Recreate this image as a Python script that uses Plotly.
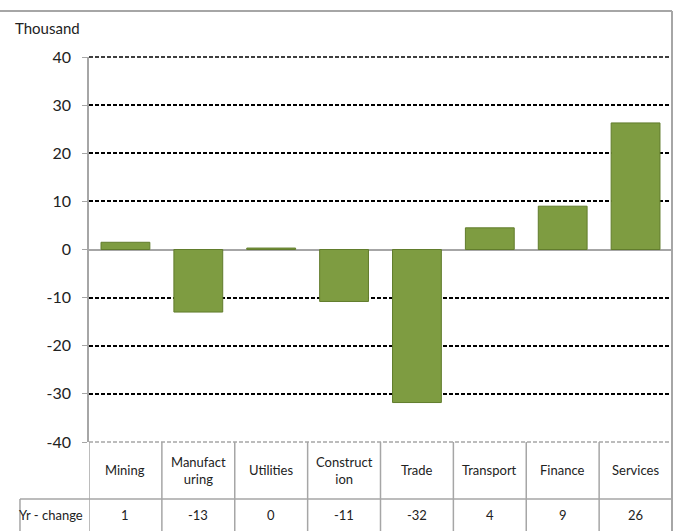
import plotly.graph_objects as go

categories = ["Mining", "Manufacturing", "Utilities", "Construction", "Trade", "Transport", "Finance", "Services"]
category_labels = ["Mining", "Manufact<br>uring", "Utilities", "Construct<br>ion", "Trade", "Transport", "Finance", "Services"]
bar_values = [1.5, -13.0, 0.3, -10.8, -31.8, 4.5, 9.0, 26.3]
table_values = ["1", "-13", "0", "-11", "-32", "4", "9", "26"]
row_header = "Yr - change"
y_ticks = [-40, -30, -20, -10, 0, 10, 20, 30, 40]
y_tick_text = ["-40", "-30", "-20", "-10", "0", "10", "20", "30", "40"]
unit_label = "Thousand"

FONT = "Lato, Roboto, sans-serif"
GRAY = "#A6A6A6"

fig = go.Figure()
xs = list(range(len(categories)))
fig.add_trace(go.Bar(
    x=xs, y=bar_values, width=0.67,
    marker=dict(color="#7E9C41", line=dict(color="#617C2C", width=1)),
    hoverinfo="skip",
))

n = len(categories)
row1_bottom = -0.148
table_bottom = -0.26
hdr_left = -0.1184

shapes = []
for k in range(n + 1):
    shapes.append(dict(type="line", xref="x", yref="paper", x0=k - 0.5, x1=k - 0.5,
                       y0=table_bottom, y1=0, line=dict(color=GRAY, width=1.5)))
shapes.append(dict(type="line", xref="paper", yref="paper", x0=hdr_left, x1=1,
                   y0=row1_bottom, y1=row1_bottom, line=dict(color=GRAY, width=1.5)))
shapes.append(dict(type="line", xref="paper", yref="paper", x0=hdr_left, x1=hdr_left,
                   y0=table_bottom, y1=row1_bottom, line=dict(color=GRAY, width=1.5)))
# bottom (-40) gray dashed and top (40) black dashed edge lines
shapes.append(dict(type="line", xref="paper", yref="paper", x0=0, x1=1, y0=0, y1=0,
                   line=dict(color=GRAY, width=1.5, dash="4px,2px")))
shapes.append(dict(type="line", xref="paper", yref="paper", x0=0, x1=1, y0=1, y1=1,
                   line=dict(color="black", width=1.5, dash="4px,2px")))
shapes.append(dict(type="line", xref="paper", yref="paper", x0=-0.2, x1=1.0, y0=1.1195, y1=1.1195,
                   line=dict(color=GRAY, width=2)))
shapes.append(dict(type="line", xref="paper", yref="paper", x0=1.0, x1=1.0, y0=table_bottom, y1=1.1195,
                   line=dict(color=GRAY, width=2)))

annotations = []
for i, lab in enumerate(category_labels):
    annotations.append(dict(x=xs[i], y=-0.074, xref="x", yref="paper", text=lab, showarrow=False,
                            xanchor="center", yanchor="middle", font=dict(family=FONT, size=13, color="#222")))
for i, v in enumerate(table_values):
    annotations.append(dict(x=xs[i], y=-0.19, xref="x", yref="paper", text=v, showarrow=False,
                            xanchor="center", yanchor="middle", font=dict(family=FONT, size=13, color="#222")))
annotations.append(dict(x=-0.0655, y=-0.19, xref="paper", yref="paper", text=row_header, showarrow=False,
                        xanchor="center", yanchor="middle", font=dict(family=FONT, size=13, color="#222")))
annotations.append(dict(x=-0.13, y=1.075, xref="paper", yref="paper", text=unit_label, showarrow=False,
                        xanchor="left", yanchor="middle", font=dict(family=FONT, size=15, color="#222")))

fig.update_layout(
    width=680, height=531,
    margin=dict(l=89, r=8, t=57, b=89),
    paper_bgcolor="white", plot_bgcolor="white",
    showlegend=False, bargap=0.33,
    shapes=shapes, annotations=annotations,
    font=dict(family=FONT, size=14, color="#222"),
)
fig.update_xaxes(range=[-0.5, n - 0.5], showticklabels=False, showgrid=False, zeroline=False,
                 showline=False, ticks="")
fig.update_yaxes(range=[-40, 40], tickvals=y_ticks, ticktext=y_tick_text, showgrid=True,
                 gridcolor="black", gridwidth=1.5,
                 griddash="4px,2px", zeroline=True, zerolinecolor=GRAY, zerolinewidth=1.5,
                 showline=True, linecolor=GRAY, linewidth=1.5, ticks="outside", ticklen=5,
                 tickcolor=GRAY, ticklabelstandoff=8, tickfont=dict(family=FONT, size=16, color="#222"))

fig.write_html("out.html", config={"displayModeBar": False},
               post_script="document.body.style.margin='0';")
